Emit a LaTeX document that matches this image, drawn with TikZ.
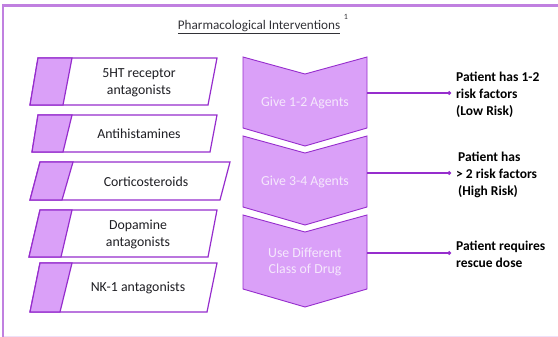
\documentclass[tikz,border=0pt]{standalone}
\usepackage{fontspec}
\setmainfont{Carlito}
\usetikzlibrary{arrows.meta}
\definecolor{strokeP}{RGB}{150,45,205}
\definecolor{fillP}{RGB}{218,160,248}
\definecolor{frameP}{RGB}{192,128,224}
\definecolor{faintP}{RGB}{238,224,248}
\definecolor{chevText}{RGB}{245,232,252}
\definecolor{darkText}{RGB}{30,30,35}
\begin{document}
\begin{tikzpicture}[x=1pt,y=-1pt,
  boxshape/.style={draw=strokeP,line width=1.2pt,fill=white,line join=miter},
  boxfill/.style={draw=strokeP,line width=1.2pt,fill=fillP},
  chevshape/.style={draw=strokeP,line width=0.9pt,fill=fillP},
  boxtext/.style={font=\fontsize{13.8}{17}\selectfont,text=darkText,align=center,inner sep=0pt},
  chevtext/.style={font=\fontsize{13.8}{16}\selectfont,text=chevText,align=center,inner sep=0pt},
  sidetext/.style={font=\fontsize{13.5}{17}\selectfont\bfseries,text=black,align=left,inner sep=0pt,anchor=west},
  conn/.style={draw=strokeP,line width=1.3pt,-{Circle[length=3.5pt]}}]
\useasboundingbox (0,0) rectangle (558,337);
% frame
\draw[faintP,line width=1pt] (3,336) -- (558,336);
\draw[frameP,line width=2pt] (3,337) -- (3,6);
\draw[frameP,line width=3pt] (2,6) -- (558,6);
% title
\node[font=\fontsize{13.2}{15}\selectfont,text={rgb,255:red,50;green,50;blue,55},inner sep=0pt] (title) at (259,27) {\underline{Pharmacological Interventions}};
\node[font=\fontsize{8}{9}\selectfont,text={rgb,255:red,50;green,50;blue,55},inner sep=0pt] (sup) at (346,17) {1};
% left parallelograms
\draw[boxshape] (38,58) -- (217,58) -- (208,105) -- (30,105) -- cycle;
\draw[boxfill] (38,58) -- (72,58) -- (63,105) -- (30,105) -- cycle;
\draw[boxshape] (38,115) -- (217,115) -- (210,152) -- (32,152) -- cycle;
\draw[boxfill] (38,115) -- (72,115) -- (63,152) -- (32,152) -- cycle;
\draw[boxshape] (40,162) -- (230,162) -- (220,200) -- (30,200) -- cycle;
\draw[boxfill] (40,162) -- (73,162) -- (62,200) -- (30,200) -- cycle;
\draw[boxshape] (40,210) -- (217,210) -- (208,257) -- (29,257) -- cycle;
\draw[boxfill] (40,210) -- (72,210) -- (61,257) -- (29,257) -- cycle;
\draw[boxshape] (40,263) -- (217,263) -- (207,312) -- (30,312) -- cycle;
\draw[boxfill] (40,263) -- (72,263) -- (60,312) -- (30,312) -- cycle;
\node[boxtext] (b1) at (139,83) {5HT receptor\\antagonists};
\node[boxtext] (b2) at (139,134) {Antihistamines};
\node[boxtext] (b3) at (146,182) {Corticosteroids};
\node[boxtext] (b4) at (138,234) {Dopamine\\antagonists};
\node[boxtext] (b5) at (138,288) {NK-1 antagonists};
% chevrons
\draw[chevshape] (243,57) -- (305,74) -- (367,57) -- (367,128) -- (305,146) -- (243,128) -- cycle;
\draw[chevshape] (243,136) -- (305,153) -- (367,136) -- (367,207) -- (305,225) -- (243,207) -- cycle;
\draw[chevshape] (243,215) -- (305,232) -- (367,215) -- (367,289) -- (305,307) -- (243,289) -- cycle;
\node[chevtext] (c1) at (305,103) {Give 1-2 Agents};
\node[chevtext] (c2) at (305,182) {Give 3-4 Agents};
\node[chevtext] (c3) at (305,262) {Use Different\\Class of Drug};
% right texts
\node[sidetext] (r1) at (456,95) {Patient has 1-2\\risk factors\\(Low Risk)};
\node[sidetext] (r2) at (456,175) {\hspace*{2pt}Patient has\\> 2 risk factors\\\hspace*{2pt}(High Risk)};
\node[sidetext] (r3) at (456,254) {Patient requires\\rescue dose};
% connectors
\coordinate (s1) at (367,93);
\coordinate (s2) at (367,173);
\coordinate (s3) at (367,253);
\coordinate (e1) at (451,93);
\coordinate (e2) at (451,173);
\coordinate (e3) at (451,253);
\draw[conn] (s1) -- (e1);
\draw[conn] (s2) -- (e2);
\draw[conn] (s3) -- (e3);
\end{tikzpicture}
\end{document}
